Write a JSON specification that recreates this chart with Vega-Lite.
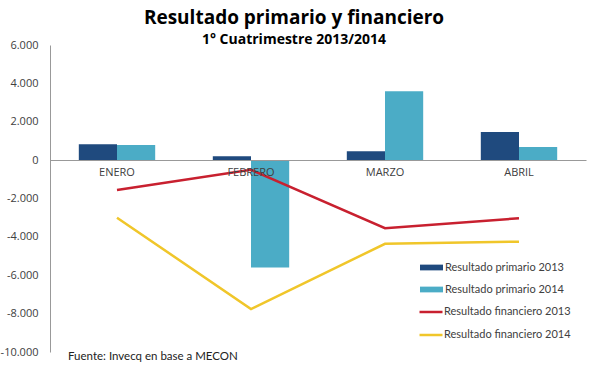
{
  "$schema": "https://vega.github.io/schema/vega-lite/v6.json",
  "width": 536,
  "height": 307,
  "autosize": {"type": "none"},
  "padding": {"left": 50, "top": 45, "right": 6, "bottom": 18},
  "background": "white",
  "config": {"view": {"stroke": null}, "font": "Open Sans", "axisY": {"labelOverlap": false}},
  "title": {
    "text": "Resultado primario y financiero",
    "subtitle": "1° Cuatrimestre 2013/2014",
    "fontSize": 19,
    "fontWeight": "bold",
    "subtitleFontSize": 14,
    "subtitleFontWeight": "bold",
    "color": "#000000",
    "subtitleColor": "#000000",
    "font": "Open Sans",
    "subtitleFont": "Open Sans",
    "anchor": "middle",
    "dx": -24,
    "offset": -8,
    "subtitlePadding": 5
  },
  "layer": [
    {
      "data": {"values": [
        {"mes": "ENERO", "serie": "Resultado primario 2013", "valor": 830},
        {"mes": "ENERO", "serie": "Resultado primario 2014", "valor": 790},
        {"mes": "FEBRERO", "serie": "Resultado primario 2013", "valor": 200},
        {"mes": "FEBRERO", "serie": "Resultado primario 2014", "valor": -5600},
        {"mes": "MARZO", "serie": "Resultado primario 2013", "valor": 460},
        {"mes": "MARZO", "serie": "Resultado primario 2014", "valor": 3590},
        {"mes": "ABRIL", "serie": "Resultado primario 2013", "valor": 1470},
        {"mes": "ABRIL", "serie": "Resultado primario 2014", "valor": 690}
      ]},
      "mark": {"type": "bar"},
      "encoding": {
        "x": {
          "field": "mes", "type": "nominal",
          "scale": {"domain": ["ENERO", "FEBRERO", "MARZO", "ABRIL"], "paddingInner": 0.43, "paddingOuter": 0.215},
          "axis": {"title": null, "ticks": false, "domainColor": "#999999", "labelFontSize": 11, "labelColor": "#404040", "labelPadding": 6, "labelAngle": 0, "offset": -192, "zindex": 1}
        },
        "xOffset": {"field": "serie", "type": "nominal", "scale": {"paddingInner": 0, "paddingOuter": 0}},
        "y": {
          "field": "valor", "type": "quantitative",
          "scale": {"domain": [-10000, 6000], "nice": false},
          "axis": {"title": null, "grid": false, "ticks": false, "domainColor": "#999999", "labelFontSize": 11, "labelColor": "#404040", "labelPadding": 12, "labelOverlap": false, "tickCount": 9, "values": [-10000, -8000, -6000, -4000, -2000, 0, 2000, 4000, 6000], "labelExpr": "(datum.value < 0 ? '-' : '') + replace(format(abs(datum.value), ','), ',', '.')"}
        },
        "fill": {
          "field": "serie", "type": "nominal",
          "scale": {"domain": ["Resultado primario 2013", "Resultado primario 2014"], "range": ["#1F4A7E", "#4BACC6"]},
          "legend": {"title": null, "orient": "none", "legendX": 370, "legendY": 211, "padding": 0, "symbolType": "M-1,-0.25H1V0.25H-1Z", "symbolSize": 529, "symbolStrokeWidth": 0, "labelFont": "Lato", "labelFontSize": 11, "labelColor": "#404040", "labelOffset": 2, "rowPadding": 5}
        }
      }
    },
    {
      "data": {"values": [
        {"mes": "ENERO", "serie": "Resultado financiero 2013", "valor": -1560},
        {"mes": "FEBRERO", "serie": "Resultado financiero 2013", "valor": -500},
        {"mes": "MARZO", "serie": "Resultado financiero 2013", "valor": -3550},
        {"mes": "ABRIL", "serie": "Resultado financiero 2013", "valor": -3030},
        {"mes": "ENERO", "serie": "Resultado financiero 2014", "valor": -3000},
        {"mes": "FEBRERO", "serie": "Resultado financiero 2014", "valor": -7760},
        {"mes": "MARZO", "serie": "Resultado financiero 2014", "valor": -4360},
        {"mes": "ABRIL", "serie": "Resultado financiero 2014", "valor": -4250}
      ]},
      "mark": {"type": "line", "strokeWidth": 2.5},
      "encoding": {
        "x": {"field": "mes", "type": "nominal", "sort": ["ENERO", "FEBRERO", "MARZO", "ABRIL"]},
        "y": {"field": "valor", "type": "quantitative"},
        "stroke": {
          "field": "serie", "type": "nominal",
          "scale": {"domain": ["Resultado financiero 2013", "Resultado financiero 2014"], "range": ["#C8202F", "#F0C62A"]},
          "legend": {"title": null, "orient": "none", "legendX": 368, "legendY": 254, "padding": 0, "symbolType": "M-1,0H1", "symbolSize": 529, "symbolStrokeWidth": 2.5, "labelFont": "Lato", "labelFontSize": 11, "labelColor": "#404040", "labelOffset": 0, "rowPadding": 5}
        }
      }
    },
    {
      "data": {"values": [{"t": "Fuente: Invecq en base a MECON"}]},
      "mark": {"type": "text", "align": "left", "baseline": "middle", "font": "Lato", "fontSize": 11.5, "color": "#222222", "dx": -49, "dy": 5},
      "encoding": {
        "text": {"field": "t"},
        "x": {"datum": "ENERO"},
        "y": {"datum": -10000}
      }
    }
  ]
}
